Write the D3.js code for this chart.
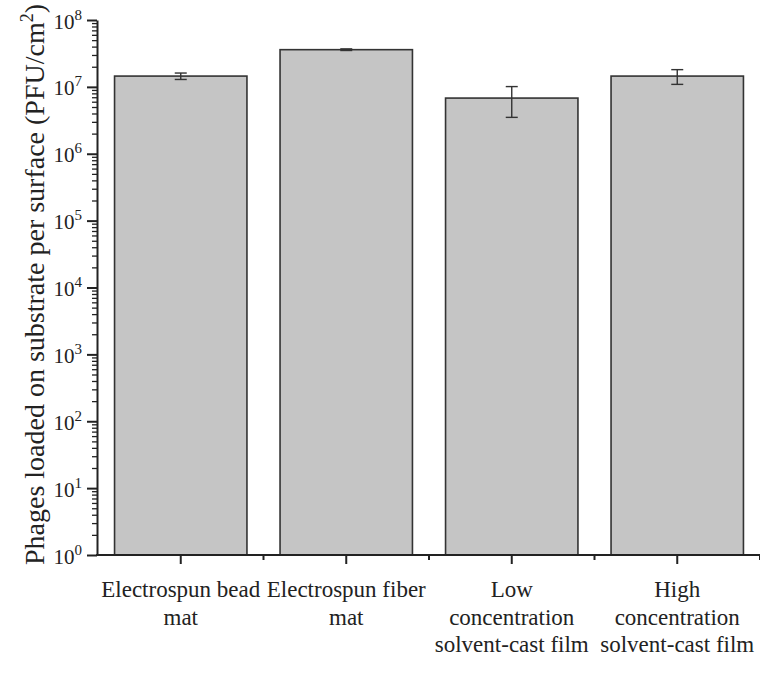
<!DOCTYPE html>
<html>
<head>
<meta charset="utf-8">
<script src="https://cdn.jsdelivr.net/npm/d3@7"></script>
<style>
  body { margin: 0; background: #fff; }
  text { font-family: "Liberation Serif", "Times New Roman", serif; fill: #222; }
</style>
</head>
<body>
<div id="chart"></div>
<script>
// data
var categories = [
  ["Electrospun bead", "mat"],
  ["Electrospun fiber", "mat"],
  ["Low", "concentration", "solvent-cast film"],
  ["High", "concentration", "solvent-cast film"]
];
var values = [1.45e7, 3.6e7, 6.8e6, 1.45e7];
var errors = [1.6e6, 1.0e6, 3.3e6, 3.6e6];
var yTickExps = [0, 1, 2, 3, 4, 5, 6, 7, 8];
var yLabel = "Phages loaded on substrate per surface (PFU/cm";

var W = 760, H = 675;
var axisX = 97, plotTop = 20, plotBottom = 555;

var svg = d3.select("#chart").append("svg").attr("width", W).attr("height", H);

var x = d3.scaleBand()
  .domain(d3.range(categories.length))
  .range([98, 760])
  .paddingInner(0.2)
  .paddingOuter(0.1);

var y = d3.scaleLog().domain([1, 1e8]).range([plotBottom, plotTop]);

// bars
svg.selectAll("rect.bar")
  .data(values)
  .enter().append("rect")
  .attr("class", "bar")
  .attr("x", function(d, i){ return x(i); })
  .attr("y", function(d){ return y(d); })
  .attr("width", x.bandwidth())
  .attr("height", function(d){ return plotBottom - y(d); })
  .attr("fill", "#c5c5c5")
  .attr("stroke", "#333")
  .attr("stroke-width", 1.6);

// error bars
var capW = 12;
var eb = svg.selectAll("g.err")
  .data(values)
  .enter().append("g")
  .attr("class", "err")
  .attr("stroke", "#333")
  .attr("stroke-width", 1.4);
eb.append("line")
  .attr("x1", function(d, i){ return x(i) + x.bandwidth() / 2; })
  .attr("x2", function(d, i){ return x(i) + x.bandwidth() / 2; })
  .attr("y1", function(d, i){ return y(d + errors[i]); })
  .attr("y2", function(d, i){ return y(d - errors[i]); });
eb.append("line")
  .attr("x1", function(d, i){ return x(i) + x.bandwidth() / 2 - capW / 2; })
  .attr("x2", function(d, i){ return x(i) + x.bandwidth() / 2 + capW / 2; })
  .attr("y1", function(d, i){ return y(d + errors[i]); })
  .attr("y2", function(d, i){ return y(d + errors[i]); });
eb.append("line")
  .attr("x1", function(d, i){ return x(i) + x.bandwidth() / 2 - capW / 2; })
  .attr("x2", function(d, i){ return x(i) + x.bandwidth() / 2 + capW / 2; })
  .attr("y1", function(d, i){ return y(d - errors[i]); })
  .attr("y2", function(d, i){ return y(d - errors[i]); });

// y axis: minor ticks
var minor = [];
for (var e = 0; e < 8; e++) {
  for (var m = 2; m <= 9; m++) minor.push(m * Math.pow(10, e));
}
var yMinor = d3.axisLeft(y).tickValues(minor).tickSize(5).tickFormat("");
var gMinor = svg.append("g").attr("transform", "translate(" + axisX + ",0)").call(yMinor);
gMinor.select(".domain").remove();
gMinor.selectAll("line").attr("stroke", "#222").attr("stroke-width", 1.3);

// y axis: major ticks
var yMajor = d3.axisLeft(y)
  .tickValues(yTickExps.map(function(p){ return Math.pow(10, p); }))
  .tickSize(10)
  .tickSizeOuter(0)
  .tickFormat("");
var gy = svg.append("g").attr("transform", "translate(" + axisX + ",0)").call(yMajor);
gy.select(".domain").attr("stroke", "#222").attr("stroke-width", 2);
gy.selectAll(".tick line").attr("stroke", "#222").attr("stroke-width", 2);
gy.selectAll(".tick").each(function(d, i){
  var t = d3.select(this).append("text")
    .attr("x", -15)
    .attr("y", 8)
    .attr("text-anchor", "end")
    .style("font-size", "21px");
  t.append("tspan").text("10");
  t.append("tspan").attr("dy", -9).style("font-size", "15px").text(yTickExps[i]);
});

// x axis
var xMinor = d3.axisBottom(x).tickSize(0).tickFormat("");
var gx = svg.append("g").attr("transform", "translate(0," + plotBottom + ")").call(xMinor);
gx.select(".domain").attr("d", "M" + (axisX - 1) + ",0H760").attr("stroke", "#222").attr("stroke-width", 2);
gx.selectAll(".tick line")
  .attr("y2", 9)
  .attr("stroke", "#222").attr("stroke-width", 2);
// band boundary ticks
svg.selectAll("line.bnd")
  .data(d3.range(1, categories.length + 1))
  .enter().append("line")
  .attr("class", "bnd")
  .attr("x1", function(i){ return x(i - 1) + x.step() - x.step() * x.paddingInner() / 2; })
  .attr("x2", function(i){ return x(i - 1) + x.step() - x.step() * x.paddingInner() / 2; })
  .attr("y1", plotBottom)
  .attr("y2", plotBottom + 5)
  .attr("stroke", "#222")
  .attr("stroke-width", 2);

// category labels
svg.selectAll("text.cat")
  .data(categories)
  .enter().append("text")
  .attr("class", "cat")
  .attr("text-anchor", "middle")
  .style("font-size", "23px")
  .each(function(lines, i){
    var t = d3.select(this);
    lines.forEach(function(s, k){
      t.append("tspan")
        .attr("x", x(i) + x.bandwidth() / 2)
        .attr("y", 597 + k * 27.5)
        .text(s);
    });
  });

// y axis title
var yt = svg.append("text")
  .attr("transform", "translate(44," + ((plotTop + plotBottom) / 2 - 3) + ") rotate(-90)")
  .attr("text-anchor", "middle")
  .style("font-size", "28px");
yt.append("tspan").text(yLabel);
yt.append("tspan").attr("dy", -11).style("font-size", "18px").text("2");
yt.append("tspan").attr("dy", 11).text(")");
</script>
</body>
</html>
